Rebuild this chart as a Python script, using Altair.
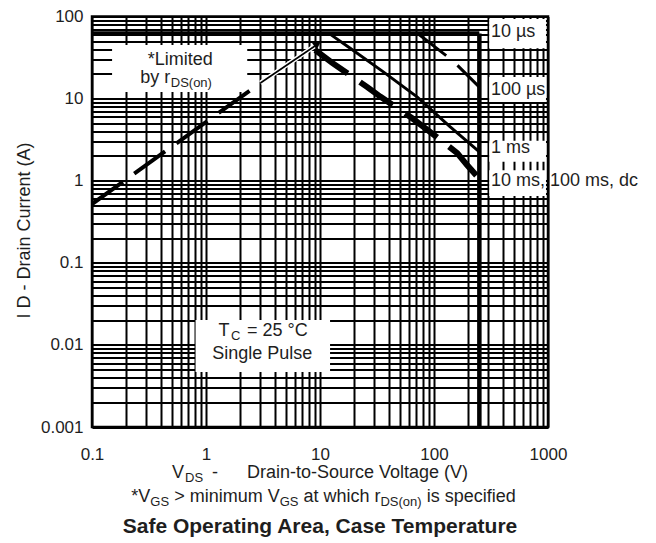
import altair as alt
import pandas as pd

FONT = "Liberation Sans"
INK = "#1e1e1e"

# ---------------- data ----------------
x_decades = [0.1, 1, 10, 100, 1000]
y_decades = [0.001, 0.01, 0.1, 1, 10, 100]

# R_DS(on) limit (dashed) and its arrow
rds_v = [0.1, 3.0]
rds_i = [0.52, 15.5]
arrow_v = [3.0, 9.3]
arrow_i = [15.5, 45.0]
# 10 us boundary (current limit) and voltage wall
top_v = [0.1, 250]
top_i = [62, 62]
wall_v = [250, 250]
wall_i = [62, 0.001]
# 100 us
us100_v = [72, 108, 144, 250]
us100_i = [62, 40, 29.5, 13.8]
# 1 ms
ms1_v = [12.25, 18.4, 35.7, 71, 138, 250]
ms1_i = [61, 41, 21.3, 10.5, 4.55, 2.25]
# 10 ms, 100 ms, dc
dc_v = [9.1, 12.8, 26, 34, 64, 83, 160, 195, 250]
dc_i = [39, 27.2, 13.8, 10.5, 5.8, 4.4, 2.17, 1.55, 1.05]

# label boxes (white backgrounds)
box_v1 = [0.15, 0.81, 305, 305, 305, 305]
box_v2 = [2.3, 12.25, 960, 960, 960, 960]
box_i1 = [45, 0.0201, 93, 18.3, 3.06, 1.34]
box_i2 = [12, 0.00468, 41, 9.1, 1.7, 0.65]

curve_labels = ["10 \u00b5s", "100 \u00b5s", "1 ms", "10 ms, 100 ms, dc"]
curve_label_v = [316, 316, 316, 316]
curve_label_i = [65, 12.6, 2.47, 0.98]

# ---------------- helpers ----------------
x_grid = sorted(set(round(d * k, 6) for d in x_decades[:-1] for k in range(1, 10))) + [x_decades[-1]]
y_grid = sorted(set(round(d * k, 6) for d in y_decades[:-1] for k in range(1, 10))) + [y_decades[-1]]

xs = alt.Scale(type="log", domain=[x_decades[0], x_decades[-1]], nice=False)
ys = alt.Scale(type="log", domain=[y_decades[0], y_decades[-1]], nice=False)

common_axis = dict(
    grid=True, gridColor="black", gridWidth=2, gridOpacity=1,
    domain=False, ticks=False, labelFont=FONT, labelColor=INK,
    labelFontSize=17, labelOverlap=False, labelFlush=False, labelBound=False,
    format="~g",
)
x_axis = alt.Axis(values=x_grid,
                  labelExpr=f"indexof({x_decades}, datum.value) >= 0 ? format(datum.value, '~g') : ''",
                  labelPadding=19, title=None, **common_axis)
y_axis = alt.Axis(values=y_grid,
                  labelExpr=f"indexof({y_decades}, datum.value) >= 0 ? format(datum.value, '~g') : ''",
                  labelPadding=9,
                  title="I D - Drain Current (A)", titleFont=FONT, titleFontSize=18,
                  titleFontWeight="normal", titleColor=INK, titleX=-68, titleY=213.5,
                  titleAngle=270, titleBaseline="middle", titleAlign="center",
                  **common_axis)


def X():
    return alt.X("V:Q", scale=xs, axis=x_axis)


def Y():
    return alt.Y("I:Q", scale=ys, axis=y_axis)


def series(v, i):
    return pd.DataFrame({"V": v, "I": i, "k": list(range(len(v)))})


def line(v, i, width, dash=None, color="black"):
    kw = dict(color=color, strokeWidth=width, strokeCap="butt", clip=True)
    if dash:
        kw["strokeDash"] = dash
    return alt.Chart(series(v, i)).mark_line(**kw).encode(x=X(), y=Y(), order="k:Q")


W = {' ': 278, '*': 389, 'V': 667, 'G': 778, 'S': 667, '>': 584, 'm': 833, 'i': 222,
     'n': 556, 'u': 556, 'a': 556, 't': 278, 'w': 722, 'h': 556, 'c': 500, 'r': 333,
     'D': 722, '(': 333, ')': 333, 'o': 556, 's': 500, 'p': 556, 'e': 556, 'f': 278,
     'd': 556, 'T': 611, 'C': 722, '=': 584, '\u00b0': 400, 'b': 556, 'y': 500}


def tw(s, size):
    return sum(W.get(ch, 556) for ch in s) / 1000 * size


def note(text, v, i, dx=0, dy=0, size=18, align="left", baseline="alphabetic"):
    lead = len(text) - len(text.lstrip(" "))
    dx = dx + tw(" " * lead, size)
    return alt.Chart(pd.DataFrame({"V": [v], "I": [i], "t": [text.strip()]})).mark_text(
        align=align, baseline=baseline, dx=dx, dy=dy, font=FONT, fontSize=size, color=INK
    ).encode(x=X(), y=Y(), text="t:N")


def ptext(text, x, y, size=18, weight="normal", align="left"):
    lead = len(text) - len(text.lstrip(" "))
    x = x + tw(" " * lead, size)
    return alt.Chart(pd.DataFrame({"t": [text.strip()]})).mark_text(
        align=align, baseline="alphabetic", font=FONT, fontSize=size,
        fontWeight=weight, color=INK
    ).encode(x=alt.value(x), y=alt.value(y), text="t:N")


# ---------------- layers ----------------
boxes = alt.Chart(pd.DataFrame({"V": box_v1, "V2": box_v2, "I": box_i1, "I2": box_i2})).mark_rect(
    color="white").encode(x=X(), x2="V2:Q", y=Y(), y2="I2:Q")

layers = [boxes]
layers.append(line(top_v, top_i, 4.5))
layers.append(line(wall_v, wall_i, 4.5))
layers.append(line(rds_v, rds_i, 4, dash=[38, 14]))
layers.append(line(arrow_v, arrow_i, 4.5, color="white"))
layers.append(line(arrow_v, arrow_i, 1.6))
layers.append(alt.Chart(series(arrow_v[-1:], arrow_i[-1:])).mark_point(
    shape="triangle", filled=True, color="black", size=70, angle=55, opacity=1
).encode(x=X(), y=Y()))
layers.append(line(us100_v, us100_i, 3, dash=[36, 15]))
layers.append(line(ms1_v, ms1_i, 3))
layers.append(line(dc_v, dc_i, 6, dash=[40, 15]))

# in-plot notes
layers.append(note("*Limited", 0.594, 25.7, align="center"))
layers.append(note("by r", 0.265, 15.5))
layers.append(note("DS(on)", 0.265, 15.5, dx=tw("by r", 18) + 0.5, dy=4, size=13))
tc_pieces = [("T", 18, -1), ("C", 13, 3), (" = 25 \u00b0C", 18, -1)]
tc_w = sum(tw(s, sz) for s, sz, _ in tc_pieces) + 1.5
off = -tc_w / 2
for s, sz, d in tc_pieces:
    layers.append(note(s, 3.12, 0.01259, dx=off, dy=d, size=sz))
    off += tw(s, sz) + 1.5
layers.append(note("Single Pulse", 3.12, 0.00692, dy=1, align="center"))
for t, v, i in zip(curve_labels, curve_label_v, curve_label_i):
    layers.append(note(t, v, i, baseline="middle"))

# x-axis title with subscripts (plot-relative pixels)
yb = 461.5
layers.append(ptext("V", 80, yb))
layers.append(ptext("DS", 93, yb + 4, size=13))
layers.append(ptext("-", 120, yb))
layers.append(ptext("Drain-to-Source Voltage (V)", 155, yb))

# footnote
pieces = [("*V", 18, 0), ("GS", 13, 4), (" > minimum V", 18, 0), ("GS", 13, 4),
          (" at which r", 18, 0), ("DS(on)", 13, 4), (" is specified", 18, 0)]
total = sum(tw(s, sz) for s, sz, _ in pieces)
xcur = 231.5 - total / 2
for s, sz, d in pieces:
    layers.append(ptext(s, xcur, 485.5 + d, size=sz))
    xcur += tw(s, sz)

layers.append(ptext("Safe Operating Area, Case Temperature", 228, 516, size=21,
                    weight="bold", align="center"))

chart = alt.layer(*layers).properties(
    width=456, height=410.5,
    padding={"left": 84, "top": 8.5, "right": 100, "bottom": 115},
    autosize=alt.AutoSizeParams(type="none"),
).configure_view(stroke="black", strokeWidth=2.5)

chart.save("out.html", embed_options={"renderer": "svg", "actions": False})
